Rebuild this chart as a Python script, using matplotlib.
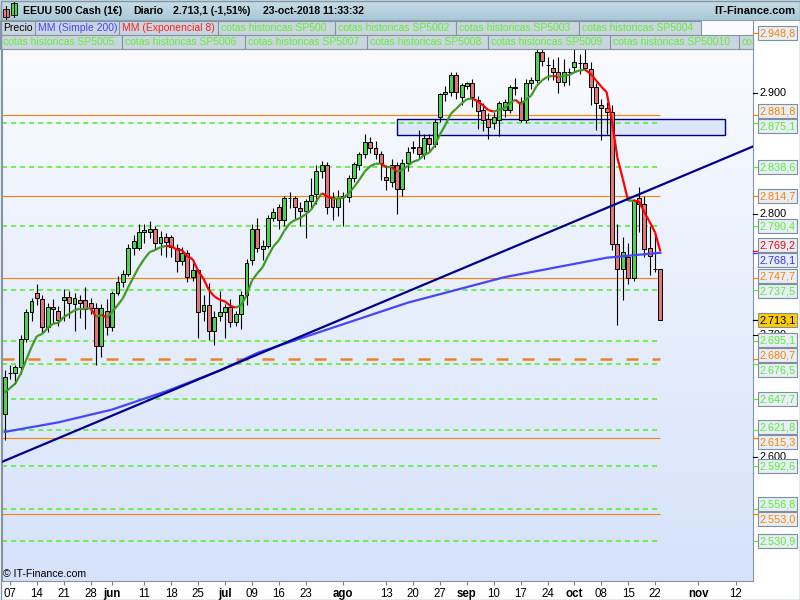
import numpy as np
import pandas as pd
import matplotlib
matplotlib.use('Agg')
import matplotlib.pyplot as plt
from matplotlib.patches import Rectangle
from matplotlib.collections import LineCollection
from matplotlib.colors import LinearSegmentedColormap

plt.rcParams['font.family'] = ['Liberation Sans', 'DejaVu Sans']

# velas diarias EEUU 500 Cash (dias laborables 4-may-2018 .. 23-oct-2018)
fechas = pd.bdate_range('2018-05-04', '2018-10-23')

apertura = [
    2635, 2669, 2669, 2674, 2697, 2719, 2735, 2730, 2707, 2723.5,
    2720, 2729, 2732, 2726, 2729, 2729, 2727, 2723, 2691, 2720,
    2707, 2735, 2744, 2751, 2772, 2772, 2785, 2785, 2788, 2776,
    2781, 2781, 2772, 2761, 2768, 2748, 2754, 2720, 2725, 2704,
    2716, 2719, 2723.5, 2711, 2718, 2733, 2762, 2788, 2771, 2774,
    2797, 2806, 2795, 2813, 2813.4, 2805, 2802.5, 2810.7, 2816.5, 2835,
    2840, 2814, 2806, 2814, 2814, 2829.6, 2840, 2849, 2859, 2854,
    2849, 2830.5, 2826, 2840, 2820.5, 2842, 2854, 2855.4, 2849, 2862.5,
    2857.6, 2880, 2899, 2900.7, 2914.4, 2896.5, 2905.6, 2907.6, 2893.8, 2885.6,
    2878.2, 2874.6, 2877.4, 2886, 2885.6, 2903.5, 2892.4, 2877.4, 2907.6, 2910,
    2933, 2922.6, 2920, 2917, 2909, 2917, 2921.3, 2924, 2924, 2919,
    2904.3, 2890, 2887.5, 2884.2, 2775.3, 2754.5, 2764.3, 2747, 2813, 2808.2,
    2771.8, 2754.5, 2754.5]
maximo = [
    2672, 2676, 2676, 2700, 2722, 2731, 2742, 2733, 2727, 2730,
    2724, 2738, 2737, 2735, 2733, 2740, 2731, 2727, 2726, 2730,
    2737, 2749, 2754, 2775, 2783, 2792, 2792, 2794, 2790, 2786,
    2784, 2783, 2775, 2773, 2770, 2760, 2755, 2733, 2743, 2720,
    2737, 2726, 2730, 2720, 2737, 2763, 2792, 2797, 2779, 2799,
    2805, 2808, 2815, 2818, 2815, 2810, 2812, 2830, 2840, 2844,
    2843, 2818, 2820, 2818, 2832, 2843, 2851, 2866, 2863, 2860,
    2852, 2840, 2845, 2843, 2845, 2855, 2860, 2869, 2866, 2866,
    2878, 2900, 2905, 2917, 2917, 2908, 2909, 2911, 2897, 2891,
    2883, 2884, 2893, 2895, 2906, 2912, 2896, 2911, 2913, 2936,
    2943, 2929, 2928, 2929, 2928, 2920, 2940, 2932, 2940, 2925,
    2908, 2895, 2892, 2890, 2792, 2781, 2776, 2812, 2822, 2815,
    2790, 2784, 2755]
minimo = [
    2614, 2664, 2660, 2668, 2695, 2712, 2725, 2702, 2703, 2710,
    2708, 2712, 2714, 2704, 2714, 2705, 2718, 2676, 2682, 2700,
    2704, 2733, 2740, 2749, 2766, 2770, 2776, 2780, 2770, 2766,
    2765, 2765, 2752, 2758, 2744, 2745, 2698, 2712, 2696, 2692,
    2712, 2698, 2707, 2708, 2705, 2725, 2758, 2769, 2762, 2772,
    2794, 2788, 2790, 2805, 2795, 2790, 2780, 2805, 2808, 2830,
    2800, 2795, 2798, 2790, 2810, 2826, 2836, 2846, 2850, 2845,
    2828, 2820, 2822, 2800, 2815, 2835, 2850, 2845, 2845, 2852,
    2855, 2876, 2893, 2897, 2895, 2890, 2903, 2888, 2870, 2868,
    2862, 2870, 2864, 2880, 2883, 2898, 2876, 2875, 2903, 2908,
    2922, 2910, 2910, 2900, 2905, 2906, 2917, 2915, 2919, 2890,
    2869, 2861, 2866, 2770, 2708.6, 2729, 2742, 2745, 2785, 2765,
    2750, 2752, 2712.8]
cierre = [
    2666, 2669.5, 2674, 2697, 2719, 2728, 2731, 2707, 2723.5, 2722,
    2713, 2732, 2727, 2731, 2727, 2722, 2723, 2691, 2723, 2707,
    2735, 2744, 2751, 2772, 2778, 2785, 2787, 2788, 2776, 2781,
    2777, 2773, 2761, 2768, 2748, 2754, 2719, 2725, 2704, 2715,
    2719, 2723.5, 2711, 2718, 2733, 2760, 2788, 2772, 2774, 2797,
    2802, 2795, 2813, 2813.5, 2805.5, 2802.5, 2810.7, 2816, 2835.4, 2840,
    2806, 2806, 2813, 2815, 2829.6, 2841, 2849, 2859, 2854, 2849,
    2842, 2828, 2840, 2820.5, 2842, 2851, 2855.4, 2849, 2862.5, 2857.6,
    2875.7, 2899, 2900.7, 2914.4, 2900.7, 2906, 2907.6, 2896.5, 2885, 2877.4,
    2871.9, 2880, 2891, 2892, 2904.8, 2904.8, 2877.4, 2907.6, 2910, 2933,
    2926, 2922.6, 2917, 2909, 2917, 2917, 2924.8, 2924, 2920, 2904.3,
    2891, 2887, 2884.2, 2775.3, 2754.5, 2769, 2747, 2811.5, 2808.2, 2771,
    2765.4, 2755, 2713.1]

# MM exponencial 8, un valor por vela
ema8 = [
    2653.0, 2656.7, 2660.5, 2668.6, 2679.8, 2690.5, 2699.5, 2701.2, 2706.1, 2709.7,
    2710.4, 2715.2, 2717.8, 2720.8, 2722.1, 2722.1, 2722.3, 2715.4, 2717.1, 2714.8,
    2719.3, 2724.8, 2730.6, 2739.8, 2748.3, 2756.5, 2763.2, 2768.7, 2770.4, 2772.7,
    2773.7, 2773.5, 2770.7, 2770.1, 2765.2, 2762.7, 2753.0, 2746.8, 2737.3, 2732.3,
    2729.4, 2728.1, 2724.3, 2722.9, 2725.1, 2732.9, 2745.1, 2751.1, 2756.2, 2765.3,
    2773.4, 2778.2, 2785.9, 2792.1, 2795.1, 2796.7, 2799.8, 2803.4, 2810.5, 2817.1,
    2814.6, 2812.7, 2812.8, 2813.3, 2816.9, 2822.2, 2828.2, 2835.0, 2839.3, 2841.4,
    2841.5, 2838.5, 2838.9, 2834.8, 2836.4, 2839.6, 2843.1, 2844.4, 2848.5, 2850.5,
    2856.1, 2865.6, 2873.4, 2882.5, 2886.6, 2890.9, 2894.6, 2895.0, 2892.8, 2889.4,
    2885.5, 2884.3, 2885.8, 2887.2, 2891.1, 2894.1, 2890.4, 2894.2, 2897.7, 2905.6,
    2910.1, 2912.9, 2913.8, 2912.7, 2913.7, 2914.4, 2916.7, 2918.3, 2918.7, 2915.5,
    2910.1, 2904.9, 2900.3, 2876.5, 2846.3, 2829.1, 2810.9, 2811.0, 2810.4, 2801.6,
    2793.6, 2785.0, 2769.2]

# MM simple 200 (puntos de la curva)
sma_fechas = ['2018-05-04', '2018-05-18', '2018-06-01', '2018-06-15', '2018-06-29',
              '2018-07-10', '2018-07-23', '2018-08-17', '2018-09-12', '2018-10-09',
              '2018-10-23']
sma_valores = [2620.6, 2628.5, 2639, 2654, 2671, 2685.6, 2699, 2727, 2748, 2764, 2768.1]

# cotas historicas
cotas_naranja = [2948.8, 2881.8, 2814.7, 2747.7, 2615.3, 2553.0]
cotas_naranja_disc = [2680.7]
cotas_verdes = [2875.1, 2838.6, 2790.4, 2737.5, 2695.1, 2676.5, 2647.7,
                2621.8, 2592.6, 2556.8, 2530.9]

# directriz alcista y zona
directriz_pos = [-0.86, 139.23]
directriz_precio = [2595.3, 2855.6]
zona_fechas = ['2018-08-15', '2018-11-08']
zona_precios = [2865.0, 2878.2]

cambio_pct = '-1,51%'
hora = '23-oct-2018 11:33:32'

# eje x
ticks_fechas = ['2018-05-07', '2018-05-14', '2018-05-21', '2018-05-28', '2018-06-01',
                '2018-06-11', '2018-06-18', '2018-06-25', '2018-07-02', '2018-07-09',
                '2018-07-16', '2018-07-23', '2018-08-01', '2018-08-13', '2018-08-20',
                '2018-08-27', '2018-09-03', '2018-09-10', '2018-09-17', '2018-09-24',
                '2018-10-01', '2018-10-08', '2018-10-15', '2018-10-22', '2018-11-01',
                '2018-11-12']
ticks_texto = ['07', '14', '21', '28', 'jun', '11', '18', '25', 'jul', '09', '16', '23',
               'ago', '13', '20', '27', 'sep', '10', '17', '24', 'oct', '08', '15', '22',
               'nov', '12']

calendario = pd.bdate_range('2018-05-04', '2018-12-31')


def pos(fecha):
    return calendario.get_loc(pd.Timestamp(fecha))


def num(v, dec=1):
    s = f'{v:,.{dec}f}'
    return s.replace(',', 'X').replace('.', ',').replace('X', '.')


n = len(fechas)
k = np.arange(n)
o = np.array(apertura, float)
h = np.array(maximo, float)
l = np.array(minimo, float)
c = np.array(cierre, float)
ema = np.array(ema8, float)

fig = plt.figure(figsize=(8, 6), dpi=100)
fig.patch.set_facecolor('white')

ax = fig.add_axes([2 / 800, 1 - 581 / 600, 751 / 800, 561 / 600])
fondo = LinearSegmentedColormap.from_list('fondo', ['#fbfcff', '#d5e2fa'])
ax.imshow(np.linspace(0, 1, 256).reshape(-1, 1), cmap=fondo, aspect='auto',
          extent=[0, 1, 0, 1], transform=ax.transAxes, zorder=0)
ax.set_xlim(-0.49, 139.23)
ax.set_ylim(2497.9, 2959.7)

# cotas
ax.hlines(cotas_verdes, -0.49, n - 1, colors='#66ee44', lw=1.3,
          linestyles=[(0, (2.8, 2.2))], zorder=2)
ax.hlines(cotas_naranja, -0.49, n - 1, colors='#ff8000', lw=0.8, zorder=2)
ax.hlines(cotas_naranja_disc, -0.49, n - 1, colors='#f08030', lw=1.8,
          linestyles=[(0, (4.8, 5.6))], zorder=2)

z0, z1 = pos(zona_fechas[0]), pos(zona_fechas[1])
ax.add_patch(Rectangle((z0, zona_precios[0]), z1 - z0, zona_precios[1] - zona_precios[0],
                       fc='#dde7fb', ec='#000080', lw=1.0, zorder=1.5))

# medias
ax.plot([pos(f) for f in sma_fechas], sma_valores, color='#4646ff', lw=1.6, zorder=5)
segs = [[(k[i - 1], ema[i - 1]), (k[i], ema[i])] for i in range(1, n)]
cols = ['#3f9a22' if ema[i] >= ema[i - 1] else '#ff0000' for i in range(1, n)]
ax.add_collection(LineCollection(segs, colors=cols, linewidths=1.6, zorder=5))
ax.plot(directriz_pos, directriz_precio, color='#00008c', lw=1.6, zorder=5)

# velas
sube = c >= o
ax.vlines(k, l, h, color='black', lw=0.8, zorder=3)
ax.bar(k, np.abs(c - o), bottom=np.minimum(o, c), width=0.74,
       color=np.where(sube, '#4fd24f', '#e07676'), edgecolor='black', lw=0.7, zorder=4)

ax.spines['top'].set_visible(False)
for s in ['left', 'right', 'bottom']:
    ax.spines[s].set_color('#8494a4')
ax.tick_params(axis='y', left=False, labelleft=False)
ax.set_xticks([pos(f) for f in ticks_fechas])
ax.set_xticklabels(ticks_texto, fontsize=8.3)
for lab in ax.get_xticklabels():
    if not lab.get_text().isdigit():
        lab.set_fontweight('bold')
ax.tick_params(axis='x', length=3, color='#708090', pad=2)

# capa en pixeles: cabecera, leyenda y etiquetas de precio
ov = fig.add_axes([0, 0, 1, 1], zorder=10)
cab = LinearSegmentedColormap.from_list('cab', ['#c9dee8', '#aac8d7'])
ov.imshow(np.linspace(0, 1, 64).reshape(-1, 1), cmap=cab, aspect='auto',
          extent=[0, 800, 20, 0], zorder=1)
ov.set_xlim(0, 800)
ov.set_ylim(600, 0)
ov.axis('off')
ov.plot([0, 800], [20, 20], color='#8aa0b0', lw=0.8)

# icono de velas
ov.plot([6, 6], [6, 19], color='black', lw=0.7)
ov.add_patch(Rectangle((3, 9), 6, 8, fc='#e07676', ec='black', lw=0.6))
ov.plot([14, 14], [1, 17], color='black', lw=0.7)
ov.add_patch(Rectangle((11, 3), 6, 12, fc='#4fd24f', ec='black', lw=0.6))

ov.text(23, 10.5, 'EEUU 500 Cash (1€)', fontsize=7.6, fontweight='bold', va='center')
ov.text(133, 10.5, 'Diario', fontsize=7.6, fontweight='bold', va='center')
ov.text(173, 10.5, f'{num(c[-1])} ({cambio_pct})', fontsize=7.6, fontweight='bold', va='center')
ov.text(263, 10.5, hora, fontsize=7.6, fontweight='bold', va='center')
ov.text(795, 10.5, 'IT-Finance.com', fontsize=8, fontweight='bold', va='center', ha='right')

verde_txt = '#66ee33'
fila1 = [('Precio', 'black', 0, 35), ('MM (Simple 200)', '#4444ff', 35, 119),
         ('MM (Exponencial 8)', '#ff2020', 119, 218),
         ('cotas historicas SP500', verde_txt, 218, 335),
         ('cotas historicas SP5002', verde_txt, 335, 456),
         ('cotas historicas SP5003', verde_txt, 456, 579),
         ('cotas historicas SP5004', verde_txt, 579, 701)]
fila2 = [('cotas historicas SP5005', verde_txt, 0, 122),
         ('cotas historicas SP5006', verde_txt, 122, 245),
         ('cotas historicas SP5007', verde_txt, 245, 367),
         ('cotas historicas SP5008', verde_txt, 367, 488),
         ('cotas historicas SP5009', verde_txt, 488, 610),
         ('cotas historicas SP50010', verde_txt, 610, 739),
         ('co', verde_txt, 739, 753)]
for fila, y0 in [(fila1, 20.5), (fila2, 34.5)]:
    for txt, col, x0, x1 in fila:
        ov.add_patch(Rectangle((x0, y0), x1 - x0, 14, fc='#c9d6e0', ec='#8494a4', lw=0.8, zorder=3))
        ov.text(x0 + 3, y0 + 7.5, txt, color=col, fontsize=7.5, va='center', zorder=4)


def y_pix(p):
    d = ax.transData.transform((0, p))
    return ov.transData.inverted().transform(d)[1]


# etiquetas del eje de precios
for p in [2900, 2800, 2700, 2600]:
    yy = y_pix(p)
    ov.plot([753, 757], [yy, yy], color='black', lw=0.8, zorder=2)
    ov.text(760, yy, num(p, 0), fontsize=7.8, va='center', zorder=2)

etiquetas = []
for p in cotas_naranja + cotas_naranja_disc:
    etiquetas.append((p, '#ff8000', '#e8eef5'))
for p in cotas_verdes:
    etiquetas.append((p, '#55ee33', '#e8eef5'))
etiquetas.append((ema[-1], '#ff0000', '#e8eef5'))
etiquetas.append((sma_valores[-1], '#3333ff', '#e8eef5'))
etiquetas.append((c[-1], 'black', '#ffcc00'))
etiquetas.sort(key=lambda e: -e[0])
ys = [y_pix(e[0]) for e in etiquetas]
yl = list(ys)
for _ in range(200):
    mov = False
    for j in range(1, len(yl)):
        if yl[j] - yl[j - 1] < 15:
            d = (15 - (yl[j] - yl[j - 1])) / 2
            yl[j - 1] -= d
            yl[j] += d
            mov = True
    if not mov:
        break
for (p, col, fc), y_real, y_lab in zip(etiquetas, ys, yl):
    ov.plot([753, 758], [y_real, y_real], color=col, lw=0.9, zorder=3)
    ov.add_patch(Rectangle((758, y_lab - 7), 39, 14, fc=fc, ec='#7f8fa0', lw=0.8, zorder=3))
    ov.text(760, y_lab + 0.5, num(p), color=col, fontsize=7.8, va='center', zorder=4)

ov.text(3, 574, '© IT-Finance.com', fontsize=7.6, va='center', zorder=4)
ov.add_patch(Rectangle((0.5, 0.5), 799, 599, fill=False, ec='#8494a4', lw=1.0, zorder=5))

fig.savefig('out.png', dpi=100)
